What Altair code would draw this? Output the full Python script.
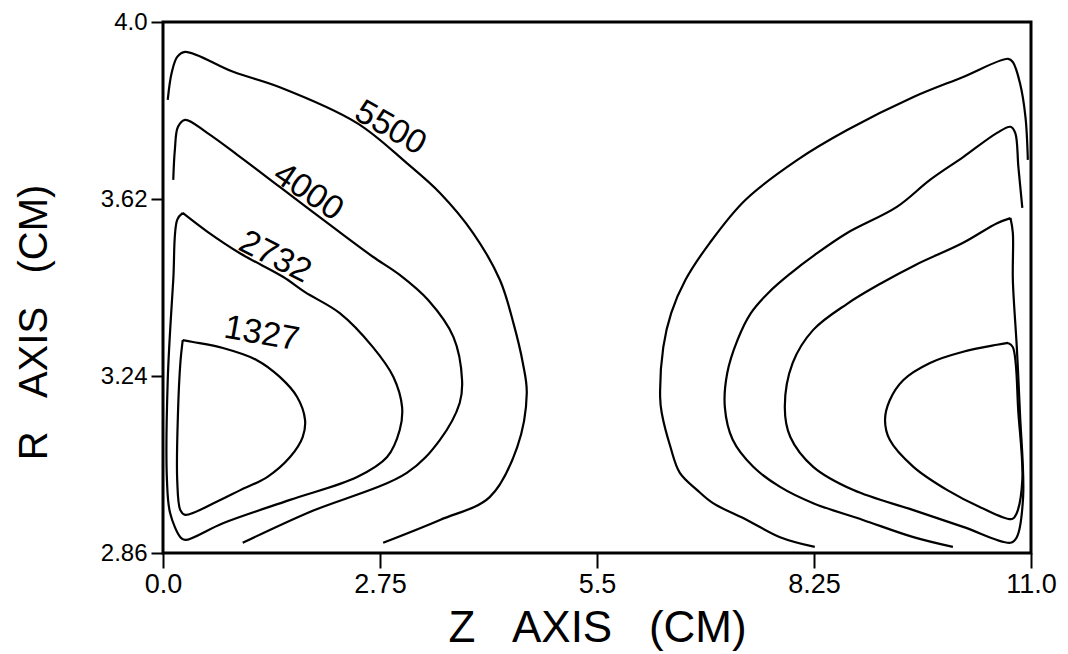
import altair as alt
import pandas as pd

# ---- contour traces (Z in cm, R in cm) ----
left_5500_z = [2.79, 3.51, 4.14, 4.49, 4.61, 4.56, 4.44, 4.27, 3.93, 3.51, 3.09, 2.46, 1.48, 0.89, 0.28, 0.18, 0.11, 0.06]
left_5500_r = [2.882, 2.931, 2.980, 3.088, 3.203, 3.268, 3.354, 3.446, 3.547, 3.633, 3.697, 3.783, 3.860, 3.893, 3.936, 3.925, 3.891, 3.833]

left_4000_z = [1.01, 1.83, 3.09, 3.51, 3.76, 3.79, 3.68, 3.36, 3.00, 2.66, 2.15, 1.48, 0.98, 0.56, 0.28, 0.19, 0.15, 0.13]
left_4000_r = [2.882, 2.946, 3.032, 3.103, 3.182, 3.231, 3.324, 3.403, 3.457, 3.496, 3.560, 3.646, 3.710, 3.762, 3.790, 3.775, 3.725, 3.661]

left_2732_z = [0.25, 0.56, 0.98, 1.52, 1.80, 2.24, 2.66, 2.92, 3.03, 3.00, 2.84, 2.46, 1.61, 0.76, 0.28, 0.22, 0.09, 0.05, 0.06, 0.13, 0.18, 0.25]
left_2732_r = [3.590, 3.550, 3.503, 3.453, 3.420, 3.375, 3.302, 3.238, 3.173, 3.124, 3.066, 3.023, 2.974, 2.924, 2.888, 2.894, 2.946, 3.017, 3.231, 3.446, 3.575, 3.590]

left_1327_z = [0.25, 0.38, 0.76, 1.19, 1.48, 1.70, 1.80, 1.77, 1.61, 1.32, 0.98, 0.68, 0.28, 0.22, 0.18, 0.19, 0.22, 0.25]
left_1327_r = [3.317, 3.313, 3.300, 3.274, 3.238, 3.195, 3.146, 3.109, 3.066, 3.023, 2.995, 2.970, 2.942, 2.952, 3.017, 3.161, 3.268, 3.317]

right_5500_z = [8.26, 7.82, 7.40, 6.97, 6.77, 6.55, 6.43, 6.32, 6.30, 6.34, 6.44, 6.62, 6.93, 7.38, 8.04, 8.67, 9.51, 10.14, 10.71, 10.77, 10.86, 10.93, 10.96]
right_5500_r = [2.873, 2.894, 2.931, 2.967, 2.995, 3.032, 3.088, 3.161, 3.195, 3.302, 3.375, 3.446, 3.526, 3.618, 3.704, 3.768, 3.839, 3.882, 3.921, 3.914, 3.869, 3.796, 3.704]

right_4000_z = [10.01, 9.51, 8.87, 8.24, 7.82, 7.48, 7.22, 7.12, 7.15, 7.28, 7.45, 7.68, 7.95, 8.26, 8.67, 9.30, 9.72, 10.14, 10.57, 10.74, 10.80, 10.84, 10.89]
right_4000_r = [2.873, 2.894, 2.931, 2.967, 3.002, 3.045, 3.103, 3.173, 3.246, 3.317, 3.375, 3.420, 3.460, 3.500, 3.547, 3.603, 3.661, 3.710, 3.762, 3.775, 3.762, 3.689, 3.601]

right_2732_z = [10.74, 10.57, 10.14, 9.53, 9.09, 8.67, 8.24, 7.98, 7.88, 7.95, 8.24, 8.75, 9.51, 10.14, 10.74, 10.82, 10.90, 10.86, 10.82, 10.77, 10.77, 10.74]
right_2732_r = [3.579, 3.568, 3.526, 3.478, 3.438, 3.395, 3.339, 3.268, 3.173, 3.109, 3.045, 2.995, 2.952, 2.916, 2.882, 2.894, 2.980, 3.161, 3.302, 3.446, 3.547, 3.579]

right_1327_z = [10.71, 10.57, 10.14, 9.72, 9.38, 9.21, 9.15, 9.21, 9.51, 9.94, 10.35, 10.76, 10.82, 10.89, 10.84, 10.77, 10.71]
right_1327_r = [3.311, 3.307, 3.292, 3.268, 3.231, 3.188, 3.146, 3.103, 3.045, 2.995, 2.959, 2.933, 2.946, 3.017, 3.161, 3.302, 3.311]

# contour labels
label_text = ["5500", "4000", "2732", "1327"]
label_z = [2.88, 1.84, 1.42, 1.25]
label_r = [3.772, 3.635, 3.495, 3.330]
label_angle = [30, 34, 27, 10]

# axes
x_ticks = [0.0, 2.75, 5.5, 8.25, 11.0]
x_tick_labels = ["0.0", "2.75", "5.5", "8.25", "11.0"]
y_ticks = [2.86, 3.24, 3.62, 4.0]
y_tick_labels = ["2.86", "3.24", "3.62", "4.0"]

traces = [
    ("L5500", left_5500_z, left_5500_r),
    ("L4000", left_4000_z, left_4000_r),
    ("L2732", left_2732_z, left_2732_r),
    ("L1327", left_1327_z, left_1327_r),
    ("R5500", right_5500_z, right_5500_r),
    ("R4000", right_4000_z, right_4000_r),
    ("R2732", right_2732_z, right_2732_r),
    ("R1327", right_1327_z, right_1327_r),
]
rows = []
for name, zs, rs in traces:
    for i, (z, r) in enumerate(zip(zs, rs)):
        rows.append({"id": name, "i": i, "z": z, "r": r})
df = pd.DataFrame(rows)

lab = pd.DataFrame({"t": label_text, "z": label_z, "r": label_r, "a": label_angle})

def fmt(vals, labels):
    parts = [f"datum.value == {v} ? '{l}'" for v, l in zip(vals, labels)]
    return " : ".join(parts) + " : ''"

xscale = alt.Scale(domain=[0, 11], nice=False, zero=False)
yscale = alt.Scale(domain=[2.86, 4.0], nice=False, zero=False)

nb = "\u00a0"
xaxis = alt.Axis(
    values=x_ticks, labelExpr=fmt(x_ticks, x_tick_labels),
    title=f"Z{nb}{nb}{nb}AXIS{nb}{nb}{nb}(CM)", titleFontSize=44, titleFont="Liberation Sans",
    titleFontWeight="normal", titleColor="black", titleBaseline="alphabetic", titleY=88,
    labelFontSize=27, labelFont="Liberation Sans", labelColor="black", labelPadding=3,
    tickSize=15, tickColor="black", tickWidth=2, domain=False, grid=False, labelFlush=False,
)
yaxis = alt.Axis(
    values=y_ticks, labelExpr=fmt(y_ticks, y_tick_labels),
    title=f"R{nb}{nb}{nb}AXIS{nb}{nb}{nb}(CM)", titleFontSize=40, titleFont="Liberation Sans",
    titleFontWeight="normal", titleColor="black", titleAngle=-90, titleBaseline="alphabetic",
    titleX=-117, titleY=300, titleAlign="center",
    labelFontSize=24, labelFont="Liberation Sans", labelColor="black", labelPadding=4,
    tickSize=12, tickColor="black", tickWidth=2, domain=False, grid=False, labelFlush=False,
)

lines = alt.Chart(df).mark_line(color="black", strokeWidth=2.2, interpolate="catmull-rom").encode(
    x=alt.X("z:Q", scale=xscale, axis=xaxis),
    y=alt.Y("r:Q", scale=yscale, axis=yaxis),
    detail="id:N",
    order="i:Q",
)

labels = alt.Chart(lab).mark_text(
    font="Liberation Sans", fontSize=34, color="black", align="center", baseline="middle"
).encode(
    x=alt.X("z:Q", scale=xscale, axis=xaxis),
    y=alt.Y("r:Q", scale=yscale, axis=yaxis),
    text="t:N",
    angle=alt.Angle("a:Q", scale=None),
)

chart = alt.layer(lines, labels).properties(
    width=868, height=531,
    autosize=alt.AutoSizeParams(type="none"),
    padding={"left": 155, "top": 14, "right": 26, "bottom": 100},
    background="white",
).configure_view(stroke="black", strokeWidth=3
).configure_axisX(labelFontSize=27, labelFont="Liberation Sans"
).configure_axisY(labelFontSize=24, labelFont="Liberation Sans")

chart.save("out.html", embed_options={"renderer": "svg", "actions": False})
